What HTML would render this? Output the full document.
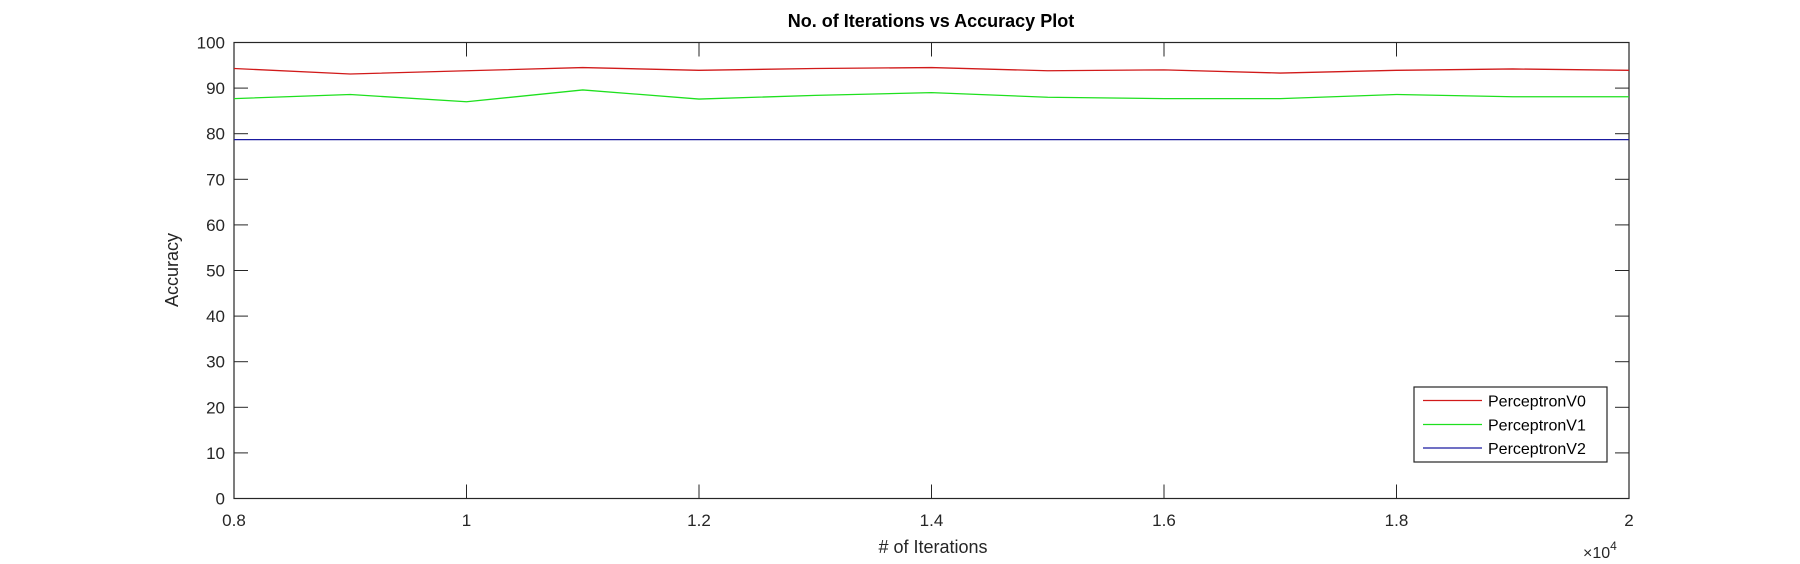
<!DOCTYPE html>
<html><head><meta charset="utf-8"><style>
html,body{margin:0;padding:0;background:#fff;}
svg{display:block;font-family:"Liberation Sans",Arial,sans-serif;}
</style></head><body>
<svg id="chart" width="1800" height="564" xmlns="http://www.w3.org/2000/svg">
<rect width="1800" height="564" fill="#fff"/>
<text x="931" y="27" text-anchor="middle" font-size="18" font-weight="bold" fill="#000">No. of Iterations vs Accuracy Plot</text>
<g id="axes"></g>
<g id="series"></g>
<text x="933" y="553" text-anchor="middle" font-size="18" fill="#262626"># of Iterations</text>
<text transform="translate(178,270) rotate(-90)" text-anchor="middle" font-size="18" fill="#262626">Accuracy</text>
<text x="1583" y="558" font-size="16" fill="#262626">×10<tspan dy="-8" font-size="12">4</tspan></text>
<g id="legend"></g>
</svg>
<script>
const xValues = [0.8,0.9,1.0,1.1,1.2,1.3,1.4,1.5,1.6,1.7,1.8,1.9,2.0];
const v0 = [94.3,93.1,93.8,94.5,93.9,94.3,94.5,93.8,94.0,93.3,93.9,94.2,93.9];
const v1 = [87.7,88.6,87.0,89.6,87.6,88.4,89.0,88.0,87.7,87.7,88.6,88.1,88.1];
const v2 = [78.7,78.7,78.7,78.7,78.7,78.7,78.7,78.7,78.7,78.7,78.7,78.7,78.7];
const xTicks = [0.8,1.0,1.2,1.4,1.6,1.8,2.0];
const xTickLabels = ['0.8','1','1.2','1.4','1.6','1.8','2'];
const yTicks = [0,10,20,30,40,50,60,70,80,90,100];
const seriesNames = ['PerceptronV0','PerceptronV1','PerceptronV2'];

const L=234,R=1629,T=42.5,B=498.5;
const NS='http://www.w3.org/2000/svg';
const xs=v=>L+(v-0.8)/1.2*(R-L);
const ys=v=>B-v/100*(B-T);
function mk(tag,attrs,parent){const e=document.createElementNS(NS,tag);for(const k in attrs)e.setAttribute(k,attrs[k]);parent.appendChild(e);return e;}
const axes=document.getElementById('axes');
const box=mk('rect',{x:L,y:T,width:R-L,height:B-T,fill:'none',stroke:'#262626','stroke-width':1.2},axes);


xTicks.forEach((t,i)=>{
  const x=xs(t);
  const a=mk('line',{x1:x,x2:x,y1:B,y2:B-14,stroke:'#262626'},axes);
  
  
  const b=mk('line',{x1:x,x2:x,y1:T,y2:T+14,stroke:'#262626'},axes);
  
  
  const tx=mk('text',{x:x,y:526,'text-anchor':'middle','font-size':17,fill:'#262626'},axes);
  tx.textContent=xTickLabels[i];
  
  
});
yTicks.forEach(t=>{
  const y=ys(t);
  const a=mk('line',{x1:L,x2:L+14,y1:y,y2:y,stroke:'#262626'},axes);
  
  
  const b=mk('line',{x1:R,x2:R-14,y1:y,y2:y,stroke:'#262626'},axes);
  
  
  const tx=mk('text',{x:225,y:y+6,'text-anchor':'end','font-size':17,fill:'#262626'},axes);
  tx.textContent=String(t);
  
  
});
const colors=['#d11a1a','#1ee01e','#1a1aa0'];
const data=[v0,v1,v2];
const sg=document.getElementById('series');
data.forEach((arr,k)=>{
  const p=mk('polyline',{points:arr.map((v,i)=>xs(xValues[i])+','+ys(v)).join(' '),fill:'none',stroke:colors[k],'stroke-width':1.3},sg);
  
  
});
const lg=document.getElementById('legend');
const lb=mk('rect',{x:1414,y:387,width:193,height:75,fill:'#fff',stroke:'#262626','stroke-width':1.2},lg);


const ly=[400.5,424.5,448];
seriesNames.forEach((n,k)=>{
  const l=mk('line',{x1:1423,x2:1482,y1:ly[k],y2:ly[k],stroke:colors[k],'stroke-width':1.3},lg);
  
  
  const t=mk('text',{x:1488,y:ly[k]+6,'font-size':16,fill:'#000'},lg);
  t.textContent=n;
  
  
});
</script>
</body></html>
